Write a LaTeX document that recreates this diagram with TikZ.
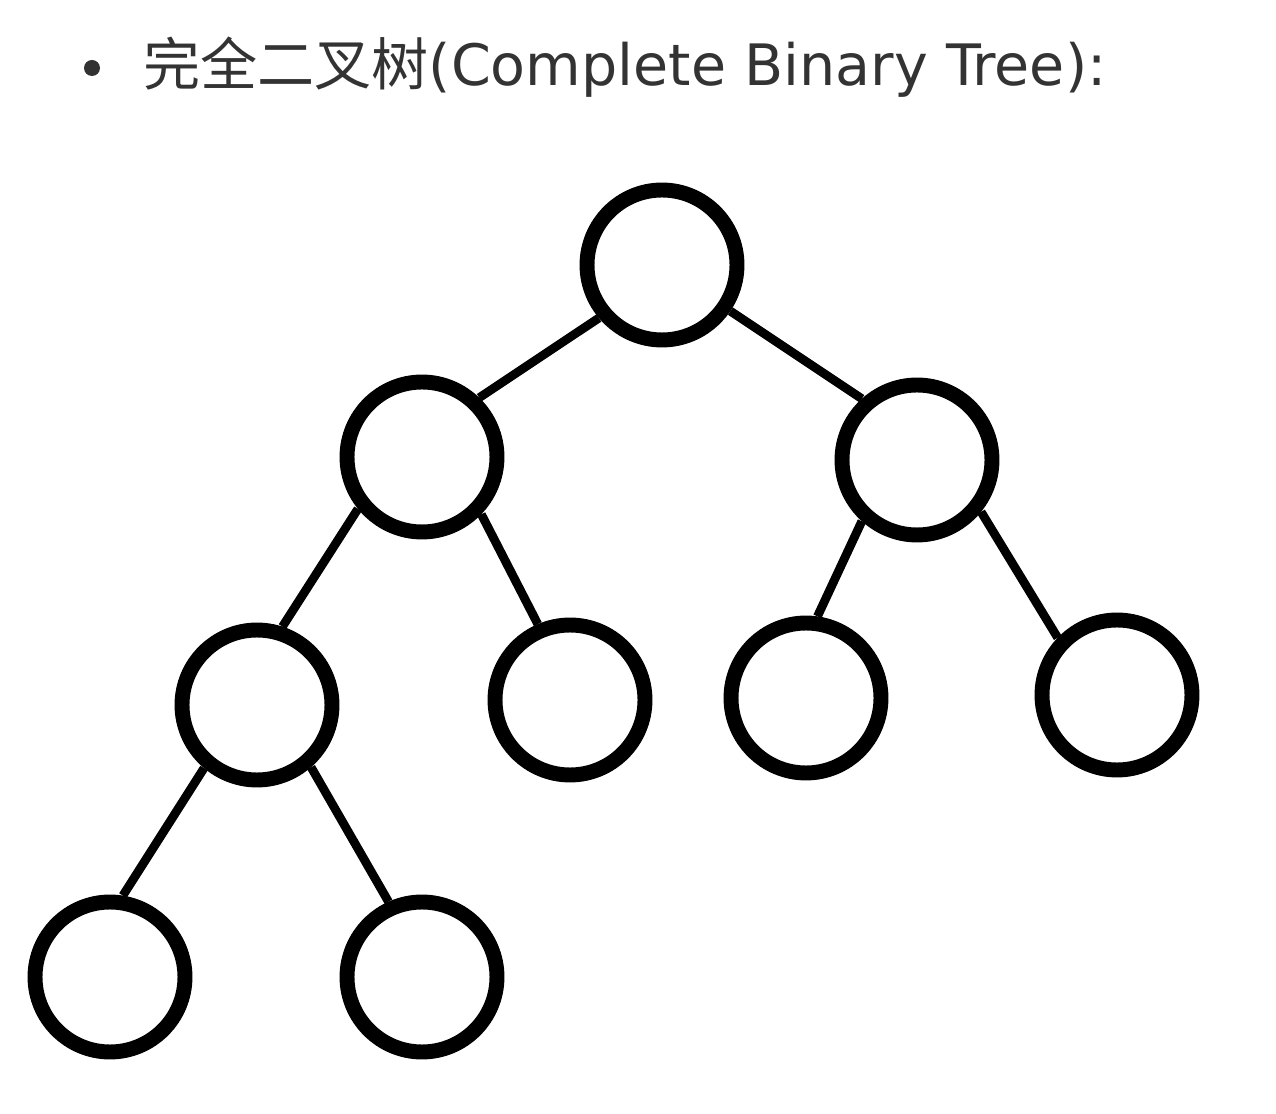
\documentclass[tikz,border=0pt]{standalone}
\usepackage{fontspec}
\setmainfont{DejaVu Sans}
\newfontfamily\cjk{Noto Sans CJK SC}
\definecolor{textgray}{HTML}{333333}
\begin{document}
\begin{tikzpicture}[x=0.02cm, y=-0.02cm,
    vertex/.style={circle, draw=black, line width=8.5pt, minimum size=3cm, inner sep=0pt},
    edge/.style={black, line width=5pt}]
    \useasboundingbox (0,0) rectangle (1276,1114);
    % title
    \fill[textgray] (92,68) circle (8);
    \node (title) at (143,86)[anchor=base west, inner sep=0pt, text=textgray, font=\fontsize{32.5}{40}\selectfont]{{\cjk 完全二叉树}(Complete Binary Tree):};
    % tree
    \node[vertex] (r) at (662,265){};
    \node[vertex] (a) at (422,457){};
    \node[vertex] (b) at (917,460){};
    \node[vertex] (aa) at (257,705){};
    \node[vertex] (ab) at (570,700){};
    \node[vertex] (ba) at (806,698){};
    \node[vertex] (bb) at (1117,695){};
    \node[vertex] (aaa) at (110,977){};
    \node[vertex] (aab) at (422,977){};
    \foreach \p/\s/\c/\t in {r/220/a/46, r/326/b/132, a/219/aa/72, a/316/ab/113,
        b/228/ba/82, b/321/bb/136, aa/230/aaa/81, aa/311/aab/114}{
    \draw[edge] (\p.\s)--(\c.\t);
    }
\end{tikzpicture}
\end{document}
